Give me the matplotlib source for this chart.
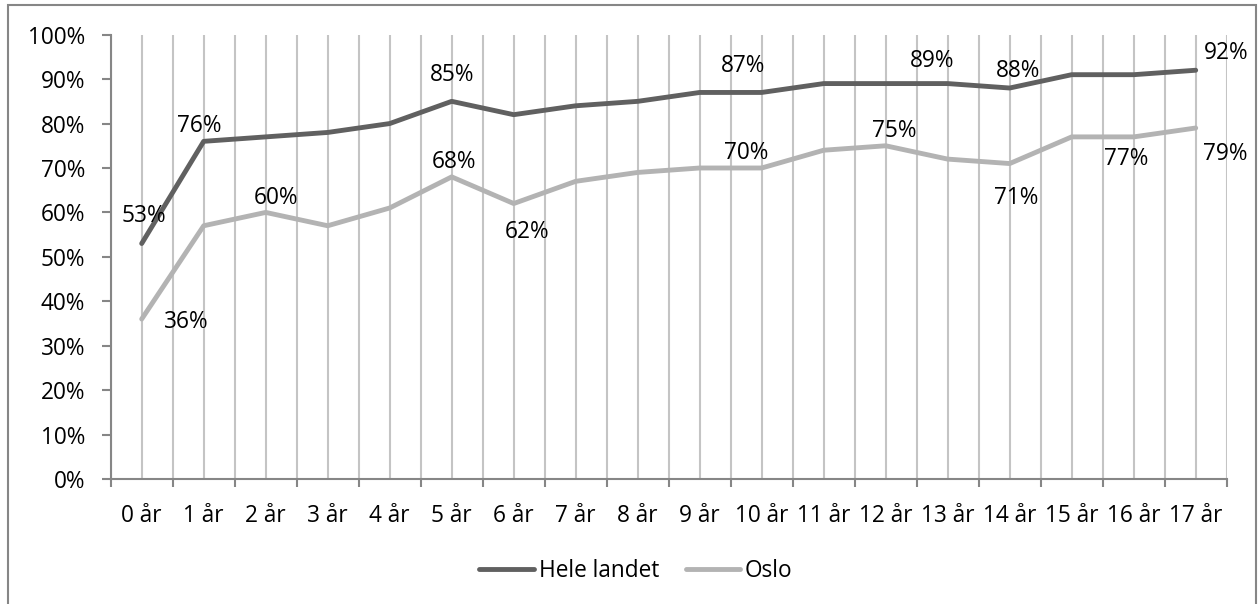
import matplotlib
matplotlib.use("Agg")
import matplotlib.pyplot as plt
from matplotlib.patches import Rectangle
from matplotlib.ticker import FixedLocator, PercentFormatter

plt.rcParams['font.family'] = ['Open Sans', 'DejaVu Sans']

# data
ages = [f"{i} år" for i in range(18)]
hele_landet = [53, 76, 77, 78, 80, 85, 82, 84, 85, 87, 87, 89, 89, 89, 88, 91, 91, 92]
oslo = [36, 57, 60, 57, 61, 68, 62, 67, 69, 70, 70, 74, 75, 72, 71, 77, 77, 79]

# which points carry a value label, with label offset in pixels (dx, dy; dy up)
hele_labels = {0: (2, 28), 1: (-4, 15), 5: (0, 26), 10: (-19, 26),
               13: (-16, 23), 14: (8, 17), 17: (30, 17)}
oslo_labels = {0: (45, -3), 2: (10, 14), 5: (2, 15), 6: (13, -28), 10: (-16, 15),
               12: (9, 15), 14: (6, -34), 16: (-8, -22), 17: (30, -26)}

dark = '#606060'
light = '#b3b3b3'
grid_col = '#c4c4c4'
axis_col = '#868686'
fs = 16.3

fig = plt.figure(figsize=(12.58, 6.04), dpi=100)
ax = fig.add_axes([110.7 / 1258, 1 - 479 / 604, (1226.7 - 110.7) / 1258, (479 - 34.7) / 604])

x = list(range(len(ages)))
ax.plot(x, [v / 100 for v in hele_landet], color=dark, lw=3.5, label='Hele landet',
        solid_joinstyle='round', solid_capstyle='round', zorder=3)
ax.plot(x, [v / 100 for v in oslo], color=light, lw=3.5, label='Oslo',
        solid_joinstyle='round', solid_capstyle='round', zorder=3)

for series, labels in ((hele_landet, hele_labels), (oslo, oslo_labels)):
    for i, (dx, dy) in labels.items():
        ax.annotate(f"{series[i]}%", (i, series[i] / 100), xytext=(dx, dy),
                    textcoords='offset pixels', ha='center', va='center',
                    fontsize=fs, color='black', zorder=4)

ax.set_xlim(-0.5, len(ages) - 0.5)
ax.set_ylim(0, 1)

ax.xaxis.set_major_locator(FixedLocator(x))
ax.set_xticklabels(ages)
ax.xaxis.set_minor_locator(FixedLocator([i - 0.5 for i in range(len(ages) + 1)]))
ax.tick_params(axis='x', which='major', length=0, pad=18, labelsize=fs)
ax.tick_params(axis='x', which='minor', length=6, width=1.5, color=axis_col, direction='out')
ax.grid(True, axis='x', which='both', color=grid_col, lw=1.5, zorder=0)

ax.yaxis.set_major_locator(FixedLocator([i / 10 for i in range(11)]))
ax.yaxis.set_major_formatter(PercentFormatter(1.0, decimals=0))
ax.tick_params(axis='y', length=6.5, width=1.5, color=axis_col, direction='out',
               pad=12, labelsize=fs)

for s in ('top', 'right'):
    ax.spines[s].set_visible(False)
for s in ('left', 'bottom'):
    ax.spines[s].set_color(axis_col)
    ax.spines[s].set_linewidth(1.5)
ax.set_axisbelow(True)

fig.legend(loc='center', bbox_to_anchor=(636 / 1258, 1 - 571 / 604), ncol=2,
           frameon=False, fontsize=fs, handlelength=2.4, handletextpad=0.22,
           columnspacing=1.18)

fig.patches.append(Rectangle((8 / 1258, -0.05), (1256 - 8) / 1258, 1.05 - 5 / 604,
                             transform=fig.transFigure, fill=False,
                             edgecolor=axis_col, lw=1.5))

fig.savefig('out.png', dpi=100)
